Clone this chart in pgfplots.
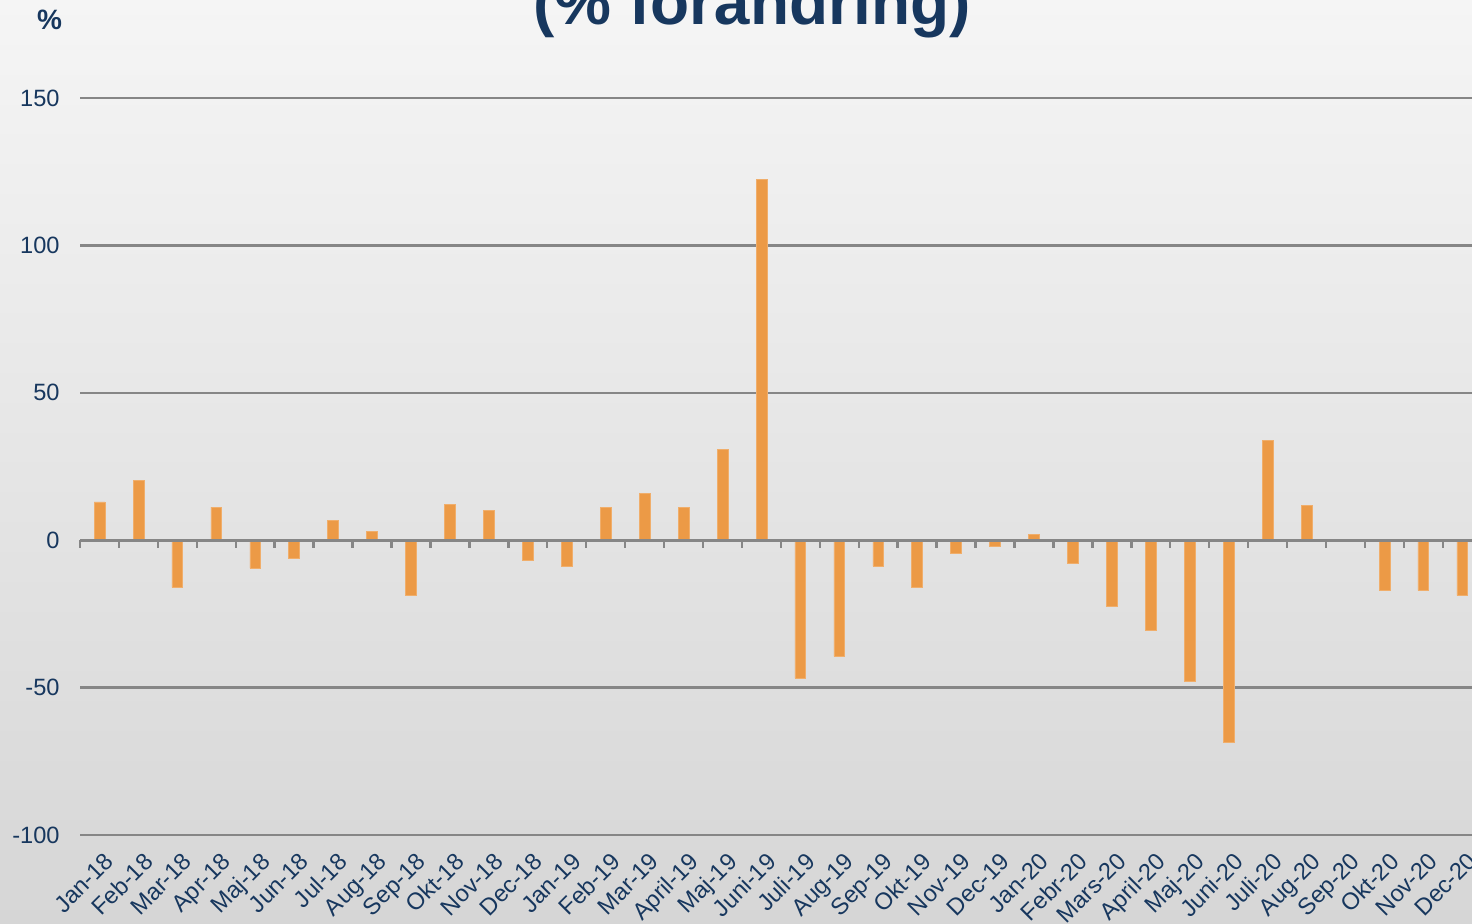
\documentclass[border=0pt]{standalone}
\usepackage{pgfplots}
\pgfplotsset{compat=1.18}
\usepackage{fontspec}
\setmainfont{Liberation Sans}
\definecolor{navy}{RGB}{23,55,94}
\definecolor{barc}{RGB}{236,154,70}
\definecolor{gridc}{RGB}{134,134,134}
\definecolor{bgtop}{RGB}{245,245,245}
\definecolor{bgbot}{RGB}{214,214,214}
\pgfplotstableread{
x y
0 13
1 20.2
2 -16
3 11.2
4 -9.5
5 -6
6 6.8
7 3
8 -18.7
9 12.2
10 10.2
11 -6.8
12 -8.8
13 11.2
14 15.9
15 11.2
16 30.9
17 122.5
18 -46.8
19 -39.4
20 -8.8
21 -16
22 -4.4
23 -2.2
24 2
25 -7.8
26 -22.4
27 -30.5
28 -47.8
29 -68.4
30 33.9
31 11.9
32 0.3
33 -17
34 -17
35 -18.7
}\datatable
\begin{document}
\begin{tikzpicture}[x=1pt,y=1pt]
\shade[top color=bgtop, bottom color=bgbot] (0,0) rectangle (736,462);
\node[anchor=base, font=\fontsize{32}{36}\selectfont\bfseries, text=navy, inner sep=0pt] at (376,449.5) {(\% förändring)};
\node[font=\fontsize{14}{16}\selectfont\bfseries, text=navy, inner sep=0pt] at (24.75,452.3) {\%};
\begin{axis}[
  at={(40pt,44.5pt)}, anchor=south west,
  scale only axis, width=696pt, height=368.5pt,
  xmin=-0.5, xmax=35.25, ymin=-100, ymax=150,
  axis line style={draw=none},
  major tick length=0pt,
  ytick={-100,-50,0,50,100,150},
  yticklabels={-100,-50,0,50,100,150},
  ymajorgrids, grid style={color=gridc, line width=1.2pt},
  xtick={0,...,35},
  xticklabels={Jan-18,Feb-18,Mar-18,Apr-18,Maj-18,Jun-18,Jul-18,Aug-18,Sep-18,Okt-18,Nov-18,Dec-18,Jan-19,Feb-19,Mar-19,April-19,Maj-19,Juni-19,Juli-19,Aug-19,Sep-19,Okt-19,Nov-19,Dec-19,Jan-20,Febr-20,Mars-20,April-20,Maj-20,Juni-20,Juli-20,Aug-20,Sep-20,Okt-20,Nov-20,Dec-20},
  ticklabel style={font=\fontsize{11.8}{13}\selectfont, text=navy},
  xticklabel style={yshift=-8pt, xshift=2pt, rotate=45, anchor=north east, inner sep=0pt},
  yticklabel style={inner sep=0pt, xshift=-10pt},
  clip=false,
]
\addplot[ybar, bar width=5.4pt, bar shift=0pt, fill=barc, draw=barc!80!white, line width=0.3pt] table[x=x,y=y] {\datatable};
\draw[gridc, line width=1.4pt] (axis cs:-0.5,0) -- (axis cs:35.25,0);
\pgfplotsinvokeforeach{0,...,35}{\draw[gridc, line width=1.2pt] (axis cs:#1-0.5,0) -- ++(0pt,-4pt);}
\end{axis}
\pgfresetboundingbox
\useasboundingbox (0,0) rectangle (736,462);
\end{tikzpicture}
\end{document}
